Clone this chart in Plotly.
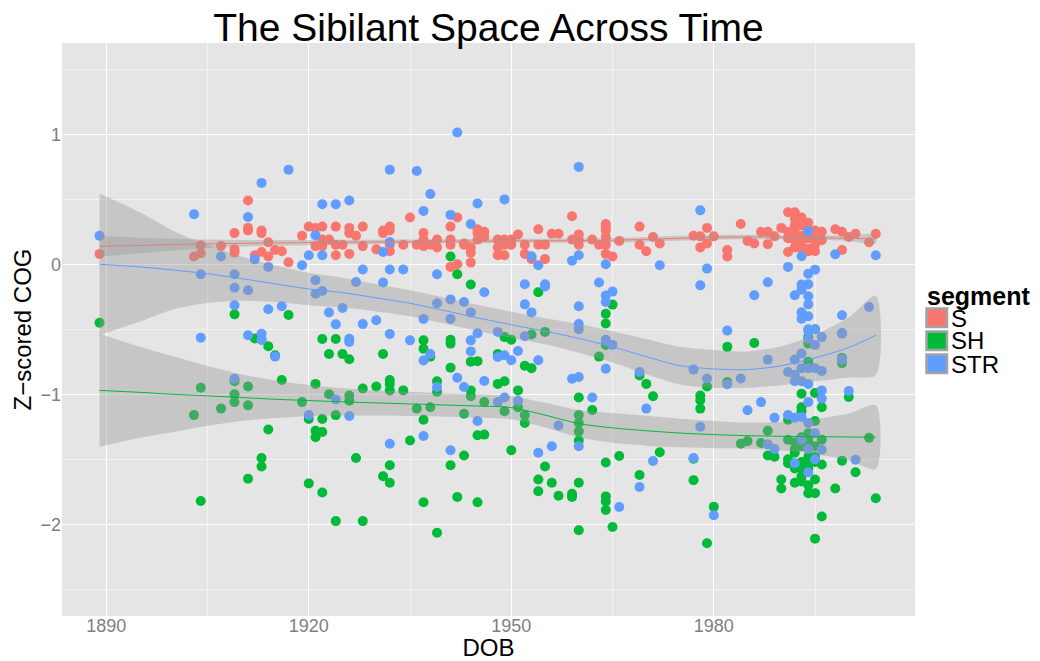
import plotly.graph_objects as go

# ---------------- data ----------------
s_years = [1889, 1903, 1904, 1907, 1909, 1911, 1912, 1913, 1914, 1915, 1916, 1917, 1919, 1920,
           1921, 1922, 1923, 1924, 1925, 1926, 1927, 1928, 1930, 1931, 1932, 1934, 1935, 1936,
           1937, 1938, 1939, 1941, 1942, 1943, 1944, 1945, 1946, 1948, 1949, 1950, 1951, 1952,
           1953, 1954, 1955, 1956, 1957, 1959, 1960, 1962, 1963, 1964, 1965, 1966, 1969, 1970,
           1971, 1972, 1977, 1978, 1979, 1980, 1982, 1984, 1985, 1986, 1987, 1988, 1989, 1990,
           1991, 1992, 1993, 1994, 1995, 1996, 1998, 1999, 2000, 2001, 2003, 2004]
s_values = [[0.08], [0.06], [0.146, 0.085], [0.14], [0.24, 0.115, 0.09], [0.49, 0.28, 0.26], [0.07],
            [0.26, 0.24, 0.095], [0.17, 0.06], [0.11], [0.10], [0.015], [0.22], [0.29],
            [0.28, 0.14], [0.29, 0.19, 0.14], [0.19], [0.29, 0.15, 0.07], [0.15], [0.28, 0.24, 0.08],
            [0.22], [0.29, 0.14], [0.115], [0.26, 0.24], [0.29, 0.26, 0.15, 0.10], [0.15], [0.36],
            [0.15], [0.24, 0.19, 0.14], [0.15], [0.19, 0.13], [0.29, 0.19, 0.15, -0.02], [0.36, 0.0],
            [0.16, 0.15], [0.13, 0.09, 0.013], [0.27, 0.24, 0.19], [0.25, 0.21], [0.19, 0.13, 0.07],
            [0.19, 0.15, 0.07], [0.19, 0.15], [0.23], [0.15, 0.08], [0.04], [0.27, 0.15], [0.15, 0.04],
            [0.235], [0.235], [0.37, 0.19], [0.23, 0.19, 0.15], [0.19], [0.15],
            [0.31, 0.28, 0.26, 0.21, 0.15, 0.08], [0.06], [0.18], [0.29, 0.15], [0.10], [0.21],
            [0.16], [0.22], [0.215, 0.13], [0.28, 0.16], [0.215], [0.11, 0.06], [0.31], [0.18],
            [0.16], [0.25], [0.25, 0.155], [0.215], [0.28], [0.40, 0.25, 0.20, 0.095],
            [0.40, 0.35, 0.30, 0.25, 0.185, 0.13], [0.36, 0.30, 0.22, 0.17, 0.12],
            [0.32, 0.27, 0.20, 0.12, 0.10], [0.26, 0.19, 0.15, 0.10], [0.25, 0.185], [0.27],
            [0.25, 0.11], [0.21], [0.235], [0.17], [0.235]]

sh_years = [1889, 1903, 1904, 1907, 1909, 1911, 1912, 1913, 1914, 1915, 1916, 1917, 1919, 1920,
            1921, 1922, 1923, 1924, 1925, 1926, 1927, 1928, 1930, 1931, 1932, 1934, 1935, 1936,
            1937, 1938, 1939, 1941, 1942, 1943, 1944, 1945, 1946, 1948, 1949, 1950, 1951, 1952,
            1953, 1954, 1955, 1956, 1957, 1959, 1960, 1962, 1963, 1964, 1965, 1966, 1969, 1970,
            1971, 1972, 1977, 1978, 1979, 1980, 1982, 1984, 1985, 1986, 1987, 1988, 1989, 1990,
            1991, 1992, 1993, 1994, 1995, 1996, 1998, 1999, 2000, 2001, 2003, 2004]
sh_values = [[-0.45], [-1.16], [-0.95, -1.82], [-1.11], [-0.385, -0.90, -1.0, -1.06],
             [-0.94, -1.085, -1.65], [-0.57], [-0.58, -1.49, -1.555], [-0.63, -1.27], [-0.70],
             [-0.89], [-0.39], [-1.06], [-1.19, -1.685], [-0.92, -1.28, -1.33],
             [-0.575, -1.19, -1.29, -1.755], [-0.69, -1.0], [-0.575, -1.16, -1.975], [-0.69],
             [-0.73, -1.01, -1.05], [-1.49], [-0.955, -1.975], [-0.94], [-0.69, -1.63],
             [-0.89, -0.92, -0.97, -1.545, -1.68], [-0.97], [-1.355], [-1.11],
             [-0.585, -0.65, -1.195, -1.83], [-0.71, -1.10], [-0.90, -0.98, -2.065],
             [0.06, -0.58, -0.61, -0.795, -1.545], [-0.077, -1.79], [-1.15, -1.47],
             [-0.155, -0.75, -0.97, -1.015], [-0.745, -1.315, -1.83], [-1.06, -1.31], [-0.69, -0.92],
             [-0.56, -0.90, -1.13], [-0.58, -1.43], [-0.97, -1.10], [-0.78, -1.16, -1.22],
             [-0.54, -0.80], [-0.215, -1.655, -1.745], [-0.52, -1.555], [-1.68], [-1.78],
             [-1.765, -1.79], [-1.025, -1.16, -1.22, -1.285, -1.355, -1.68, -2.045], [-1.12], [-0.71],
             [-0.38, -0.455, -0.62, -1.525, -1.785, -1.825, -1.89], [-0.31, -2.02], [-1.475],
             [-0.855, -1.62], [-0.92], [-1.015], [-1.445], [-1.495, -1.66], [-1.01, -1.045, -1.11],
             [-0.94, -2.145], [-1.865], [-0.635, -0.905], [-1.38], [-1.36], [-0.605], [-1.375],
             [-1.28, -1.47], [-1.48], [-1.655, -1.725], [-1.195, -1.35, -1.50, -1.53],
             [-1.37, -1.42, -1.45, -1.57, -1.68],
             [-0.995, -1.10, -1.13, -1.33, -1.40, -1.52, -1.57, -1.63, -1.67],
             [-0.56, -0.61, -0.75, -1.30, -1.35, -1.40, -1.48, -1.52, -1.57, -1.70, -1.76],
             [-0.50, -0.99, -1.205, -1.40, -1.48, -1.52, -1.655, -1.76, -2.11],
             [-1.10, -1.35, -1.54, -1.94], [-1.725], [-0.72, -0.76, -1.51], [-1.02], [-1.60],
             [-1.335], [-1.80]]

str_years = [1889, 1903, 1904, 1907, 1909, 1911, 1912, 1913, 1914, 1915, 1916, 1917, 1919, 1920,
             1921, 1922, 1923, 1924, 1925, 1926, 1927, 1928, 1930, 1931, 1932, 1934, 1935, 1936,
             1937, 1938, 1939, 1941, 1942, 1943, 1944, 1945, 1946, 1948, 1949, 1950, 1951, 1952,
             1953, 1954, 1955, 1956, 1957, 1959, 1960, 1962, 1963, 1964, 1965, 1966, 1969, 1970,
             1971, 1972, 1977, 1978, 1979, 1980, 1982, 1984, 1985, 1986, 1987, 1988, 1989, 1991,
             1992, 1993, 1994, 1995, 1996, 1998, 1999, 2000, 2001, 2003, 2004]
str_values = [[0.22], [0.385], [-0.077, -0.565], [0.06], [-0.077, -0.18, -0.315, -0.88],
              [0.364, -0.20, -0.546], [0.038], [0.626, -0.535, -0.58], [-0.02, -0.346], [-0.71],
              [-0.323], [0.728], [-0.008], [0.07, -1.16], [0.223, -0.123, -0.226],
              [0.462, 0.07, -0.205], [-0.37], [0.462, -0.462, -1.04], [-0.336],
              [0.49, -0.572, -0.597, -1.167], [-0.136], [-0.04, -0.46], [-0.43], [0.095, -0.14],
              [0.728, 0.172, -0.04, -0.536, -1.38], [-0.04], [-0.585], [0.718],
              [0.41, -0.42, -0.74, -1.32], [0.54, -0.69], [-0.077, -0.30, -0.944],
              [0.38, -0.27, -0.42, -1.43], [1.013, -0.872], [-0.29, -0.944],
              [0.31, -0.37, -0.585, -0.67], [0.467, -0.53, -1.205], [-0.215, -0.898],
              [-0.52, -0.713, -1.06], [0.499, -0.70, -1.025], [-0.738], [-0.667, -1.05],
              [-0.154, -0.308, -0.554], [0.062, -0.37], [-0.008, -0.738, -1.45], [-0.154, -0.17],
              [-1.40], [-1.24], [0.028, -0.88], [0.749, 0.069, -0.323, -0.46, -0.50, -0.867, -1.40],
              [-1.025], [-0.14], [0.0, -0.24, -0.29, -0.58, -0.59, -0.803], [-0.21, -0.62],
              [-1.867], [-0.828, -1.713], [-1.11], [-1.513], [-0.008], [-0.81, -1.49],
              [0.415, -0.162, -1.25], [-0.033, -0.879], [-1.93], [-0.51, -0.923], [-0.879],
              [-1.123], [-0.238], [-1.06], [-0.138, -0.733, -1.385], [-1.18, -1.42],
              [-0.02, -0.828, -1.16], [-0.238, -0.733, -0.85, -0.90, -1.18, -1.53],
              [0.062, -0.156, -0.195, -0.369, -0.418, -0.687, -0.80, -0.90, -1.174, -1.35],
              [0.254, -0.072, -0.154, -0.246, -0.308, -0.40, -0.50, -0.51, -0.572, -0.80, -0.92,
               -1.06, -1.22, -1.42, -1.60],
              [-0.041, -0.50, -0.62, -0.80, -1.30, -1.50], [-0.56, -0.82, -0.97, -1.033, -1.426],
              [0.077], [-0.392, -0.528, -0.533, -0.733], [-0.974], [-1.503], [-0.328], [0.069]]

# loess fits and half-widths of the confidence band
fit_dob = [1889, 1895, 1900, 1905, 1910, 1915, 1920, 1925, 1930, 1935, 1940, 1945, 1950,
           1955, 1960, 1965, 1970, 1975, 1980, 1985, 1990, 1995, 2000, 2004]
s_fit = [0.138, 0.145, 0.152, 0.157, 0.161, 0.164, 0.167, 0.170, 0.172, 0.174, 0.176, 0.178,
         0.180, 0.181, 0.182, 0.185, 0.192, 0.200, 0.207, 0.210, 0.208, 0.205, 0.200, 0.195]
s_half = [0.080, 0.060, 0.045, 0.033, 0.026, 0.022, 0.020, 0.018, 0.017, 0.016, 0.016, 0.016,
          0.016, 0.016, 0.016, 0.017, 0.018, 0.019, 0.019, 0.018, 0.016, 0.017, 0.022, 0.033]
sh_fit = [-0.970, -0.985, -1.000, -1.012, -1.025, -1.038, -1.048, -1.058, -1.066, -1.074,
          -1.082, -1.090, -1.102, -1.160, -1.225, -1.258, -1.280, -1.298, -1.310, -1.318,
          -1.323, -1.326, -1.328, -1.330]
sh_half = [0.435, 0.350, 0.290, 0.230, 0.180, 0.145, 0.120, 0.105, 0.097, 0.093, 0.090, 0.090,
           0.090, 0.095, 0.105, 0.115, 0.115, 0.110, 0.105, 0.100, 0.110, 0.135, 0.180, 0.245]
str_fit = [0.000, -0.020, -0.045, -0.072, -0.110, -0.150, -0.190, -0.218, -0.258, -0.300,
           -0.355, -0.412, -0.465, -0.515, -0.570, -0.635, -0.710, -0.780, -0.805, -0.810,
           -0.780, -0.720, -0.640, -0.546]
str_half = [0.545, 0.420, 0.300, 0.225, 0.170, 0.140, 0.125, 0.115, 0.105, 0.100, 0.100, 0.100,
            0.100, 0.100, 0.110, 0.120, 0.135, 0.145, 0.145, 0.140, 0.150, 0.180, 0.230, 0.305]

segments = ["S", "SH", "STR"]
colors = {"S": "#F8766D", "SH": "#00BA38", "STR": "#619CFF"}
x_ticks = [1890, 1920, 1950, 1980]
y_ticks = [-2, -1, 0, 1]

# ---------------- build figure ----------------
def flatten(years, values):
    xs, ys = [], []
    for yr, vals in zip(years, values):
        for v in vals:
            xs.append(yr)
            ys.append(v)
    return xs, ys

point_data = {
    "S": flatten(s_years, s_values),
    "SH": flatten(sh_years, sh_values),
    "STR": flatten(str_years, str_values),
}
fit_data = {"S": (s_fit, s_half), "SH": (sh_fit, sh_half), "STR": (str_fit, str_half)}

FONT = "Liberation Sans, Arial, Helvetica, sans-serif"
fig = go.Figure()

for seg in segments:
    xs, ys = point_data[seg]
    fig.add_trace(go.Scatter(
        x=xs, y=ys, mode="markers", name=seg, showlegend=False,
        marker=dict(size=10, color=colors[seg], line=dict(width=0)),
        hoverinfo="x+y+name"))

for seg in segments:
    fit, half = fit_data[seg]
    upper = [f + h for f, h in zip(fit, half)]
    lower = [f - h for f, h in zip(fit, half)]
    fig.add_trace(go.Scatter(
        x=fit_dob + fit_dob[::-1], y=upper + lower[::-1],
        fill="toself", fillcolor="rgba(153,153,153,0.4)",
        line=dict(width=0, shape="spline", smoothing=0.8),
        mode="lines", showlegend=False, hoverinfo="skip"))
    fig.add_trace(go.Scatter(
        x=fit_dob, y=fit, mode="lines", showlegend=False,
        line=dict(color=colors[seg], width=1, shape="spline", smoothing=0.8),
        hoverinfo="skip"))

# panel geometry in pixels (for the hand-placed ggplot-style legend)
W, H = 1040, 661
L, R, T, B = 62, 125, 43, 45
pw, ph = W - L - R, H - T - B

def px_x(px):
    return (px - L) / pw

def px_y(py):
    return (H - B - py) / ph

shapes = []
annotations = []
key_tops = [308.5, 331.5, 354.5]
for seg, top in zip(segments, key_tops):
    shapes.append(dict(type="rect", xref="paper", yref="paper",
                       x0=px_x(926.5), x1=px_x(947), y0=px_y(top + 18.5), y1=px_y(top),
                       fillcolor=colors[seg], line=dict(color="#A3A3A3", width=2.5),
                       layer="above"))
    annotations.append(dict(text=seg, xref="paper", yref="paper", x=px_x(949),
                            y=px_y(top + 9.5), xanchor="left", yanchor="middle",
                            showarrow=False, font=dict(family=FONT, size=24, color="black")))
annotations.append(dict(text="<b>segment</b>", xref="paper", yref="paper", x=px_x(925),
                        y=px_y(296), xanchor="left", yanchor="middle", showarrow=False,
                        font=dict(family=FONT, size=25, color="black")))

fig.update_layout(
    template="none",
    width=W, height=H,
    margin=dict(l=L, r=R, t=T, b=B, pad=0),
    paper_bgcolor="white", plot_bgcolor="#E5E5E5",
    title=dict(text="The Sibilant Space Across Time", x=(L + pw / 2) / W, xanchor="center",
               y=1 - 27.5 / H, yanchor="middle", yref="container",
               font=dict(family=FONT, size=39, color="black")),
    font=dict(family=FONT),
    showlegend=False,
    shapes=shapes,
    annotations=annotations,
    xaxis=dict(range=[1883.44, 2009.81], tickvals=x_ticks, showgrid=True, gridcolor="white",
               gridwidth=1.1, zeroline=False, showline=False, ticks="", ticklen=0,
               automargin=False, ticklabelstandoff=-3,
               tickfont=dict(family=FONT, size=18, color="#7F7F7F"),
               title=dict(text="DOB", font=dict(family=FONT, size=24, color="black")),
               minor=dict(dtick=15, tick0=1890, showgrid=True, gridcolor="#F2F2F2", gridwidth=0.6)),
    yaxis=dict(range=[-2.705, 1.702], tickvals=y_ticks, showgrid=True, gridcolor="white",
               gridwidth=1.1, zeroline=False, showline=False, ticks="", ticklen=0,
               automargin=False,
               tickfont=dict(family=FONT, size=18, color="#7F7F7F"),
               title=dict(text="Z\u2212scored COG", font=dict(family=FONT, size=24, color="black"),
                          standoff=2),
               minor=dict(dtick=0.5, tick0=0, showgrid=True, gridcolor="#F2F2F2", gridwidth=0.6)),
)

fig.write_html("out.html", config={"displayModeBar": False},
               post_script="document.body.style.margin='0px';")
